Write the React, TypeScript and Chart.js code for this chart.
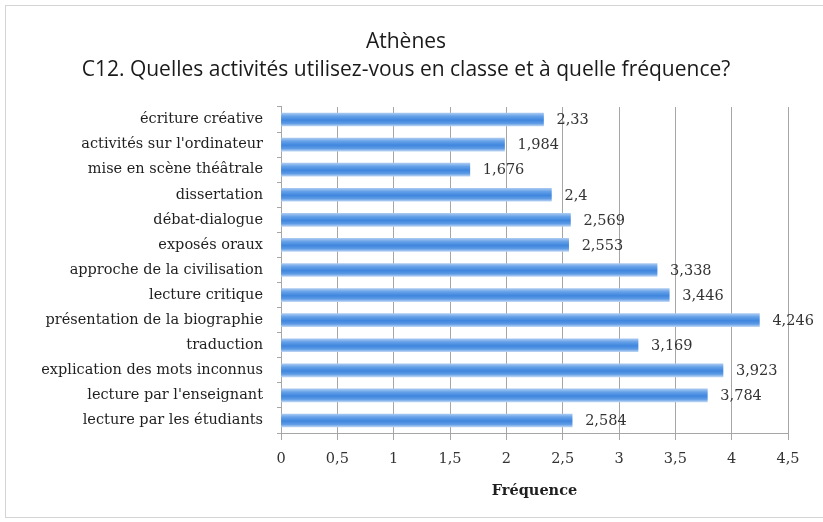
import React, { useEffect, useRef } from "react";
import { Chart, registerables } from "chart.js";

Chart.register(...registerables);

const titleLines = ["Athènes", "C12. Quelles activités utilisez-vous en classe et à quelle fréquence?"];
const xAxisTitle = "Fréquence";

const categories = [
  "écriture créative",
  "activités sur l'ordinateur",
  "mise en scène théâtrale",
  "dissertation",
  "débat-dialogue",
  "exposés oraux",
  "approche de la civilisation",
  "lecture critique",
  "présentation de la biographie",
  "traduction",
  "explication des mots inconnus",
  "lecture par l'enseignant",
  "lecture par les étudiants",
];

const values = [2.33, 1.984, 1.676, 2.4, 2.569, 2.553, 3.338, 3.446, 4.246, 3.169, 3.923, 3.784, 2.584];

const xMin = 0;
const xMax = 4.5;
const xStep = 0.5;

const fmt = (v: number) => String(v).replace(".", ",");

const SERIF = "'DejaVu Serif', serif";

const frameAndLabels = {
  id: "frameAndLabels",
  beforeDraw(chart: any) {
    const ctx = chart.ctx;
    ctx.save();
    ctx.strokeStyle = "#d4d4d4";
    ctx.lineWidth = 1;
    ctx.strokeRect(5.5, 5.5, 830, 512);
    ctx.restore();
  },
  afterDatasetsDraw(chart: any) {
    const ctx = chart.ctx;
    const meta = chart.getDatasetMeta(0);
    ctx.save();
    ctx.font = "14.5px " + SERIF;
    ctx.fillStyle = "#333333";
    ctx.textAlign = "left";
    ctx.textBaseline = "middle";
    meta.data.forEach((el: any, i: number) => {
      ctx.fillText(fmt(values[i]), el.x + 13, el.y + 1);
    });
    ctx.restore();
  },
};

export default function App() {
  const ref = useRef<HTMLCanvasElement | null>(null);

  useEffect(() => {
    if (!ref.current) return;
    const chart = new Chart(ref.current, {
      type: "bar",
      data: {
        labels: categories,
        datasets: [
          {
            data: values,
            barThickness: 13,
            borderWidth: 0,
            backgroundColor: (c: any) => {
              const ch = c.chart;
              const ys = ch.scales && ch.scales.y;
              if (!ys || c.dataIndex === undefined) return "#4f8fe0";
              const y = ys.getPixelForValue(c.dataIndex);
              if (!isFinite(y)) return "#4f8fe0";
              const g = ch.ctx.createLinearGradient(0, y - 6.5, 0, y + 6.5);
              g.addColorStop(0, "#a8c9f1");
              g.addColorStop(0.25, "#64a0e8");
              g.addColorStop(0.55, "#3f86de");
              g.addColorStop(0.8, "#5e9be5");
              g.addColorStop(1, "#b9d3f3");
              return g;
            },
          },
        ],
      },
      options: {
        indexAxis: "y",
        responsive: false,
        animation: false,
        layout: { padding: { left: 24, right: 35, top: 0, bottom: 0 } },
        plugins: {
          legend: { display: false },
          tooltip: { enabled: false },
          title: {
            display: true,
            text: titleLines,
            color: "#1a1a1a",
            font: { family: "'Open Sans', sans-serif", size: 21, weight: "normal", lineHeight: 1.333 },
            padding: { top: 28, bottom: 23 },
          },
        },
        scales: {
          x: {
            type: "linear",
            min: xMin,
            max: xMax,
            ticks: {
              stepSize: xStep,
              color: "#333333",
              font: { family: SERIF, size: 14.5 },
              padding: 11,
              callback: (v: any) => fmt(Number(v)),
            },
            grid: { color: "#a6a6a6", tickLength: 7, lineWidth: 1 },
            border: { color: "#a6a6a6" },
            title: {
              display: true,
              text: xAxisTitle,
              color: "#1f1f1f",
              font: { family: SERIF, size: 14.5, weight: "bold" },
              padding: { top: 0, bottom: 22 },
            },
            afterFit: (s: any) => {
              s.height = 89;
            },
          },
          y: {
            type: "category",
            ticks: {
              color: "#1f1f1f",
              font: { family: SERIF, size: 14.5 },
              padding: 14,
              autoSkip: false,
            },
            grid: { drawOnChartArea: false, color: "#a6a6a6", tickLength: 4, offset: true },
            border: { color: "#a6a6a6" },
            afterFit: (s: any) => {
              s.width = 257;
            },
          },
        },
      },
      plugins: [frameAndLabels],
    } as any);
    return () => chart.destroy();
  }, []);

  return (
    <div style={{ position: "fixed", left: 0, top: 0, width: 823, height: 522, background: "#fff" }}>
      <canvas ref={ref} width={823} height={522} style={{ display: "block" }} />
    </div>
  );
}
